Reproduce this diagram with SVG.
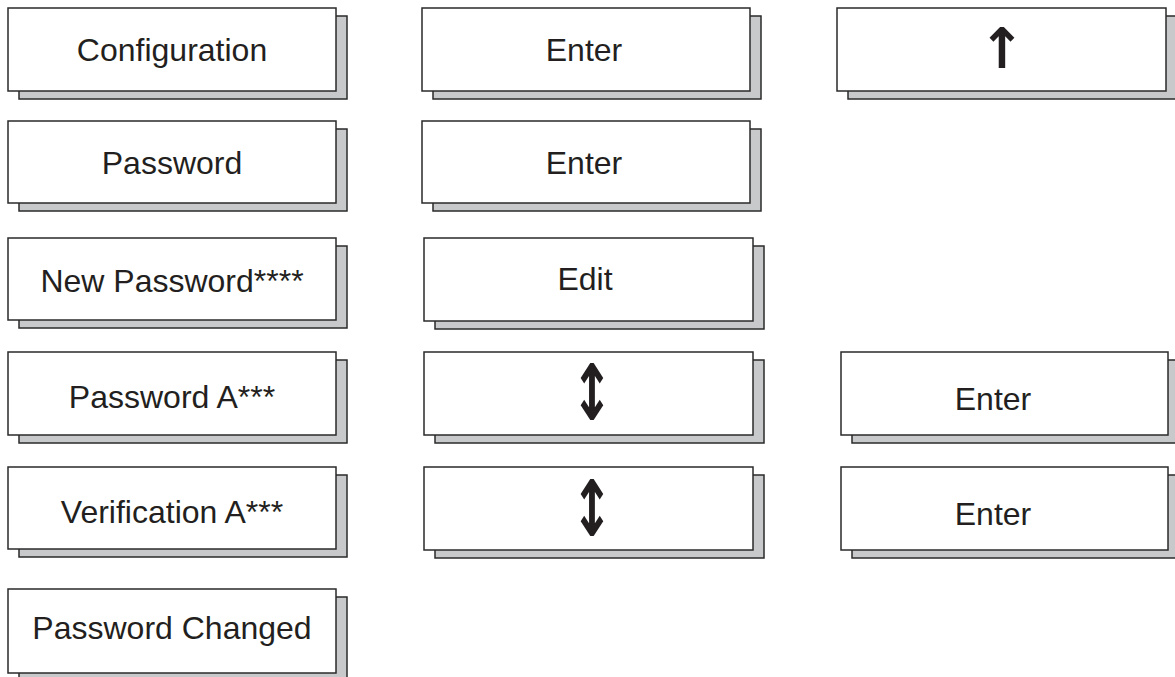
<svg xmlns="http://www.w3.org/2000/svg" width="1175" height="677" viewBox="0 0 1175 677">
<style>
.sh{fill:#c8c9cb;stroke:#2a2a2a;stroke-width:1.5}
.bx{fill:#ffffff;stroke:#2a2a2a;stroke-width:1.5}
.t{font-family:"Liberation Sans",Arial,sans-serif;font-size:32px;fill:#231f20;text-anchor:middle}
.ar{font-family:"DejaVu Sans",sans-serif;font-weight:bold;font-size:50px;fill:#231f20;text-anchor:middle}
</style>
<rect width="1175" height="677" fill="#ffffff"/>
<g id="connectors"></g>
<g id="n-configuration">
<rect class="sh" x="19" y="16" width="328" height="83"/>
<rect class="bx" x="8" y="8" width="328" height="83"/>
<text class="t" x="172" y="61">Configuration</text>
</g>
<g id="n-enter1">
<rect class="sh" x="433" y="16" width="328" height="83"/>
<rect class="bx" x="422" y="8" width="328" height="83"/>
<text class="t" x="584" y="61">Enter</text>
</g>
<g id="n-up">
<rect class="sh" x="848" y="16" width="329" height="83"/>
<rect class="bx" x="837" y="8" width="329" height="83"/>
<text class="ar" transform="translate(1002,48) scale(1.1,1.12)" x="0" y="18">↑</text>
</g>
<g id="n-password">
<rect class="sh" x="19" y="129" width="328" height="82"/>
<rect class="bx" x="8" y="121" width="328" height="82"/>
<text class="t" x="172" y="174">Password</text>
</g>
<g id="n-enter2">
<rect class="sh" x="433" y="129" width="328" height="82"/>
<rect class="bx" x="422" y="121" width="328" height="82"/>
<text class="t" x="584" y="174">Enter</text>
</g>
<g id="n-newpassword">
<rect class="sh" x="19" y="246" width="328" height="82"/>
<rect class="bx" x="8" y="238" width="328" height="82"/>
<text class="t" x="172" y="292">New Password****</text>
</g>
<g id="n-edit">
<rect class="sh" x="435" y="246" width="329" height="83"/>
<rect class="bx" x="424" y="238" width="329" height="83"/>
<text class="t" x="585" y="290">Edit</text>
</g>
<g id="n-passworda">
<rect class="sh" x="19" y="360" width="328" height="83"/>
<rect class="bx" x="8" y="352" width="328" height="83"/>
<text class="t" x="172" y="408">Password A***</text>
</g>
<g id="n-updown1">
<rect class="sh" x="435" y="360" width="329" height="83"/>
<rect class="bx" x="424" y="352" width="329" height="83"/>
<text class="ar" transform="translate(592,392) scale(1,1.55)" x="0" y="18">↕</text>
</g>
<g id="n-enter3">
<rect class="sh" x="852" y="360" width="327" height="83"/>
<rect class="bx" x="841" y="352" width="327" height="83"/>
<text class="t" x="993" y="410">Enter</text>
</g>
<g id="n-verificationa">
<rect class="sh" x="19" y="475" width="328" height="82"/>
<rect class="bx" x="8" y="467" width="328" height="82"/>
<text class="t" x="172" y="523">Verification A***</text>
</g>
<g id="n-updown2">
<rect class="sh" x="435" y="475" width="329" height="83"/>
<rect class="bx" x="424" y="467" width="329" height="83"/>
<text class="ar" transform="translate(592,508) scale(1,1.55)" x="0" y="18">↕</text>
</g>
<g id="n-enter4">
<rect class="sh" x="852" y="475" width="327" height="83"/>
<rect class="bx" x="841" y="467" width="327" height="83"/>
<text class="t" x="993" y="525">Enter</text>
</g>
<g id="n-passwordchanged">
<rect class="sh" x="19" y="597" width="328" height="84"/>
<rect class="bx" x="8" y="589" width="328" height="84"/>
<text class="t" x="172" y="639">Password Changed</text>
</g>
</svg>
